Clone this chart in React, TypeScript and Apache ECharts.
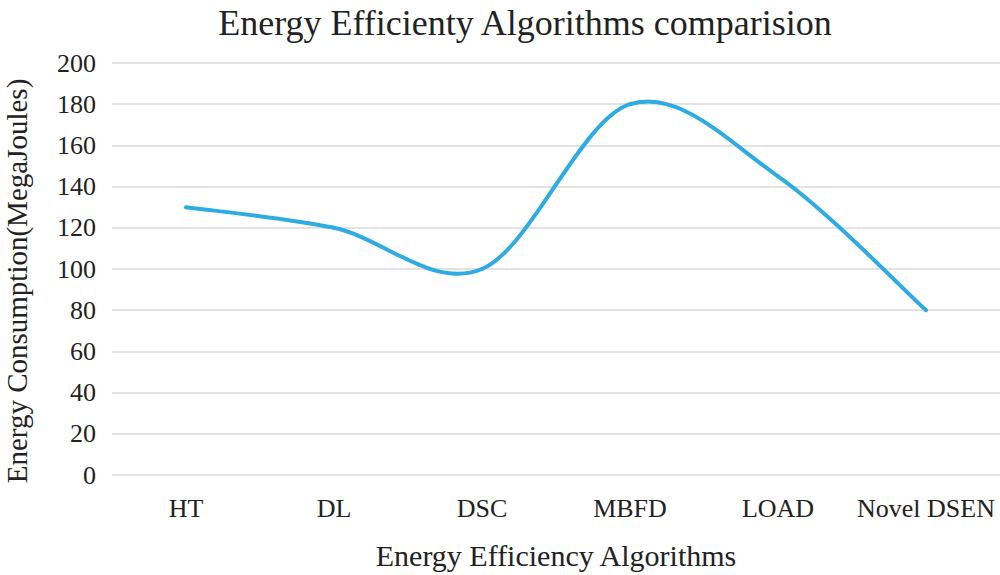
import React, { useEffect, useRef } from "react";
import * as echarts from "echarts";

const categories = ["HT", "DL", "DSC", "MBFD", "LOAD", "Novel DSEN"];
const consumption = [130, 120, 100, 180, 145, 80];
const yTicks = { min: 0, max: 200, interval: 20 };

const FONT = "Liberation Serif";
const LINE_COLOR = "#2eabe3";

export default function App() {
  const ref = useRef<HTMLDivElement>(null);
  useEffect(() => {
    if (!ref.current) return;
    const chart = echarts.init(ref.current, undefined, { renderer: "svg" });
    const segments = consumption.slice(0, -1).map((v, i) => [i, v]);
    chart.setOption({
      animation: false,
      backgroundColor: "#ffffff",
      title: {
        text: "Energy Efficienty Algorithms comparision",
        left: 520,
        textAlign: "center",
        top: 0,
        textStyle: { fontFamily: FONT, fontSize: 36, fontWeight: "normal", color: "#222" },
      },
      graphic: [
        {
          type: "text",
          x: 17,
          y: 281,
          rotation: Math.PI / 2,
          style: {
            text: "Energy Consumption(MegaJoules)",
            fontFamily: FONT,
            fontSize: 29,
            fill: "#222",
            align: "center",
            verticalAlign: "middle",
          },
        },
      ],
      grid: { left: 112, right: 0, top: 63, bottom: 96, containLabel: false },
      xAxis: {
        type: "category",
        data: categories,
        boundaryGap: true,
        name: "Energy Efficiency Algorithms",
        nameLocation: "middle",
        nameGap: 65,
        nameTextStyle: { fontFamily: FONT, fontSize: 30, color: "#222" },
        axisLine: { show: false },
        axisTick: { show: false },
        axisLabel: { fontFamily: FONT, fontSize: 26, color: "#222", margin: 20, interval: 0, hideOverlap: false },
      },
      yAxis: {
        type: "value",
        min: yTicks.min,
        max: yTicks.max,
        interval: yTicks.interval,
        axisLine: { show: false },
        axisTick: { show: false },
        axisLabel: { fontFamily: FONT, fontSize: 26, color: "#222", margin: 16 },
        splitLine: { lineStyle: { color: "#d9d9d9", width: 1.5 } },
      },
      series: [
        {
          type: "custom",
          data: segments,
          encode: { x: 0, y: 1 },
          silent: true,
          renderItem: (params: any, api: any) => {
            const i = api.value(0) as number;
            const n = consumption.length;
            const pt = (k: number) => {
              const kk = Math.max(0, Math.min(n - 1, k));
              return api.coord([kk, consumption[kk]]);
            };
            const p0 = pt(i - 1);
            const p1 = pt(i);
            const p2 = pt(i + 1);
            const p3 = pt(i + 2);
            const cp1 = [p1[0] + (p2[0] - p0[0]) / 6, p1[1] + (p2[1] - p0[1]) / 6];
            const cp2 = [p2[0] - (p3[0] - p1[0]) / 6, p2[1] - (p3[1] - p1[1]) / 6];
            return {
              type: "bezierCurve",
              shape: {
                x1: p1[0],
                y1: p1[1],
                cpx1: cp1[0],
                cpy1: cp1[1],
                cpx2: cp2[0],
                cpy2: cp2[1],
                x2: p2[0],
                y2: p2[1],
              },
              style: { stroke: LINE_COLOR, lineWidth: 4, fill: "none", lineCap: "round" },
            };
          },
        },
      ],
    });
    return () => chart.dispose();
  }, []);
  return (
    <div
      ref={ref}
      style={{ position: "fixed", left: 0, top: 0, width: 1000, height: 575, overflow: "hidden" }}
    />
  );
}
